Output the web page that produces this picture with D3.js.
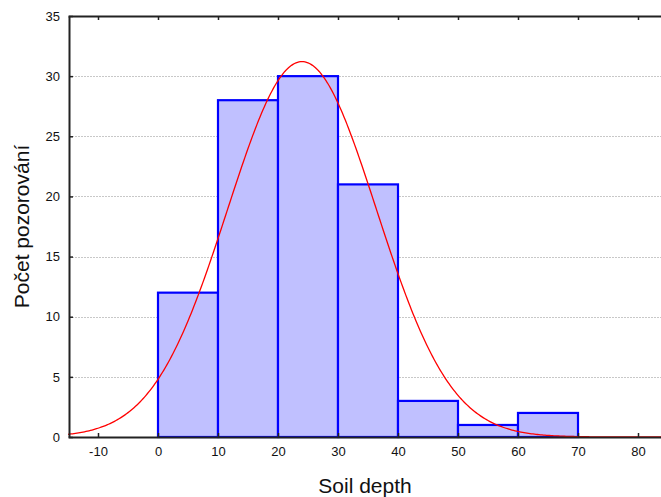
<!DOCTYPE html>
<html>
<head>
<meta charset="utf-8">
<script src="https://cdn.jsdelivr.net/npm/d3@7"></script>
<style>
  html, body { margin: 0; padding: 0; background: #fff; }
  svg { display: block; }
</style>
</head>
<body>
<svg id="chart" width="661" height="497"></svg>
<script>
// ---- data ----
const binStarts = [0, 10, 20, 30, 40, 50, 60];
const binEnds   = [10, 20, 30, 40, 50, 60, 70];
const counts    = [12, 28, 30, 21, 3, 1, 2];
const xTicks = [-10, 0, 10, 20, 30, 40, 50, 60, 70, 80];
const yTicks = [0, 5, 10, 15, 20, 25, 30, 35];
// fitted normal curve parameters
const fitMean = 24;
const fitSd = 12.4;
const binWidth = 10;
const xLabel = "Soil depth";
const yLabel = "Počet pozorování";

(function () {
const svg = d3.select("#chart");
const mLeft = 69, mTop = 16, mBottom = 437;
const x = d3.scaleLinear().domain([-15, 85]).range([68, 668]);
const y = d3.scaleLinear().domain([0, 35]).range([mBottom, mTop]);
const font = "Liberation Sans, Arial, sans-serif";

// grid lines
svg.append("g").selectAll("line")
  .data(yTicks.filter(d => d > 0 && d < 35))
  .join("line")
  .attr("x1", mLeft).attr("x2", 661)
  .attr("y1", d => Math.round(y(d)) + 0.5).attr("y2", d => Math.round(y(d)) + 0.5)
  .attr("stroke", "#c8c8c8").attr("stroke-width", 1)
  .attr("stroke-dasharray", "2,1");

// bars
const bins = counts.map((c, i) => ({ x0: binStarts[i], x1: binEnds[i], c }));
svg.append("g").selectAll("rect")
  .data(bins)
  .join("rect")
  .attr("x", d => x(d.x0))
  .attr("y", d => y(d.c))
  .attr("width", d => x(d.x1) - x(d.x0))
  .attr("height", d => y(0) - y(d.c))
  .attr("fill", "#c0c0ff")
  .attr("stroke", "#0000ff")
  .attr("stroke-width", 2.2);

// normal curve
const n = d3.sum(counts);
const xs = d3.range(-15, 85.01, 0.25);
const dens = v => n * binWidth / (fitSd * Math.sqrt(2 * Math.PI)) * Math.exp(-((v - fitMean) ** 2) / (2 * fitSd * fitSd));
svg.append("path")
  .datum(xs)
  .attr("fill", "none")
  .attr("stroke", "#ff0000")
  .attr("stroke-width", 1.3)
  .attr("d", d3.line().x(d => x(d)).y(d => y(dens(d))));

// axes
const fmt = d => String(d);
const axB = svg.append("g").attr("transform", `translate(0,${mBottom})`)
  .call(d3.axisBottom(x).tickValues(xTicks).tickFormat(fmt).tickSizeInner(-4).tickSizeOuter(0).tickPadding(10));
const axT = svg.append("g").attr("transform", `translate(0,${mTop})`)
  .call(d3.axisTop(x).tickValues(xTicks).tickSizeInner(-4).tickSizeOuter(0).tickFormat(""));
const axL = svg.append("g").attr("transform", `translate(${mLeft},0)`)
  .call(d3.axisLeft(y).tickValues(yTicks).tickFormat(fmt).tickSizeInner(-4).tickSizeOuter(0).tickPadding(9));
[axB, axT, axL].forEach(a => {
  a.select(".domain").attr("stroke", "#222").attr("stroke-width", 2);
  a.selectAll(".tick line").attr("stroke", "#222").attr("stroke-width", 1.5);
  a.selectAll("text").attr("font-family", font).attr("font-size", 13).attr("fill", "#111");
});
axB.selectAll("text").attr("dy", "0.71em");

// labels
svg.append("text")
  .attr("x", 365).attr("y", 493)
  .attr("text-anchor", "middle")
  .attr("font-family", font).attr("font-size", 21).attr("fill", "#111")
  .text(xLabel);
svg.append("text")
  .attr("transform", `translate(29,${(mTop + mBottom) / 2}) rotate(-90)`)
  .attr("text-anchor", "middle")
  .attr("font-family", font).attr("font-size", 21).attr("fill", "#111")
  .text(yLabel);
})();
</script>
</body>
</html>
